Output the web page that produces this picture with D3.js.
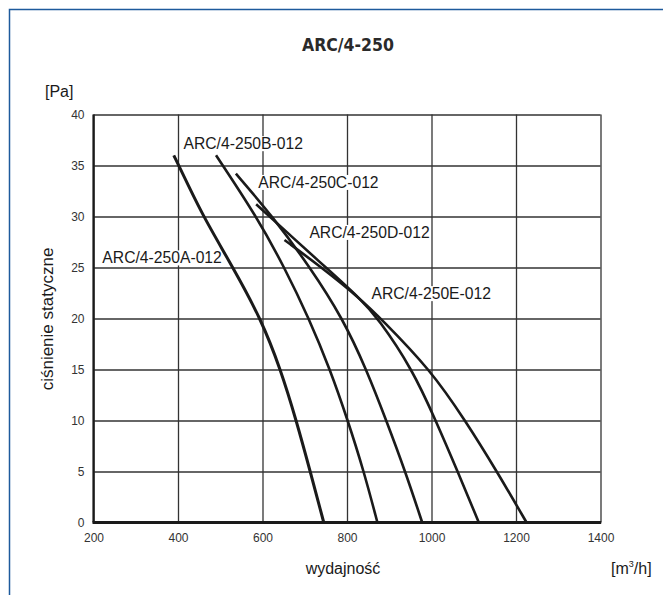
<!DOCTYPE html>
<html><head><meta charset="utf-8">
<script src="https://cdn.jsdelivr.net/npm/d3@7"></script>
<style>html,body{margin:0;padding:0;background:#fff;} svg{display:block;}</style>
</head><body>
<script>
const title = "ARC/4-250";
const seriesNames = ["ARC/4-250A-012","ARC/4-250B-012","ARC/4-250C-012","ARC/4-250D-012","ARC/4-250E-012"];
// [flow m3/h, static pressure Pa]
const curveA = [[390,36],[425,33],[460,30],[530,25],[596,20],[643,15],[680,10],[713,5],[745,0]];
const curveB = [[490,36],[586,30],[652,25],[710,20],[760,15],[802,10],[840,5],[872,0]];
const curveC = [[537,34.2],[624,30],[713,25],[790,20],[846,15],[893,10],[938,5],[978,0]];
const curveD = [[585,31.2],[678,27.7],[750,25],[830,22],[874,20],[955,15],[1010,10],[1062,5],[1112,0]];
const curveE = [[652,27.7],[740,25],[830,22],[880,20],[997,15],[1080,10],[1155,5],[1225,0]];
const xTicks = [200,400,600,800,1000,1200,1400];
const yTicks = [0,5,10,15,20,25,30,35,40];
// label anchor in data units [flow, pressure at baseline]
const labelPos = [[221,25.4],[413,36.6],[590,32.8],[711,27.9],[858,21.9]];

const W=663,H=595;
const svg=d3.select("body").append("svg").attr("width",W).attr("height",H);
const x=d3.scaleLinear().domain([200,1400]).range([93.5,600.5]);
const y=d3.scaleLinear().domain([0,40]).range([522.5,114.5]);
const font="'Liberation Sans', Arial, sans-serif";

// frame
svg.append("rect").attr("x",9.5).attr("y",9.5).attr("width",700).attr("height",700)
  .attr("fill","none").attr("stroke","#1d5a9c").attr("stroke-width",1.5);

// title
svg.append("text").attr("x",348).attr("y",51).attr("text-anchor","middle")
  .attr("font-family","'DejaVu Sans Condensed','DejaVu Sans',sans-serif").attr("font-weight","bold")
  .attr("font-size",17.5).attr("fill","#2a2a2a").text(title);

const plotH = y(0)-y(40), plotW = x(1400)-x(200);
// y grid + labels
const gy=svg.append("g").attr("transform",`translate(${x(200)},0)`)
  .call(d3.axisLeft(y).tickValues(yTicks).tickSize(-plotW).tickPadding(9).tickFormat(d3.format("d")));
gy.select(".domain").remove();
gy.selectAll(".tick line").attr("stroke","#333").attr("stroke-width",1.3);
gy.selectAll(".tick text").attr("font-family",font).attr("font-size",12).attr("fill","#333");
// x grid + labels
const gx=svg.append("g").attr("transform",`translate(0,${y(0)})`)
  .call(d3.axisBottom(x).tickValues(xTicks).tickSize(-plotH).tickPadding(11).tickFormat(d3.format("d")));
gx.select(".domain").remove();
gx.selectAll(".tick line").attr("stroke","#333").attr("stroke-width",1.3);
gx.selectAll(".tick text").attr("font-family",font).attr("font-size",12).attr("fill","#333");

// axis lines
svg.append("line").attr("x1",x(200)).attr("x2",x(200)).attr("y1",y(40)).attr("y2",y(0))
  .attr("stroke","#1a1a1a").attr("stroke-width",2.2);
svg.append("line").attr("x1",x(200)-1).attr("x2",x(1400)+0.7).attr("y1",y(0)).attr("y2",y(0))
  .attr("stroke","#1a1a1a").attr("stroke-width",2.8);

// labels with white background
const lg=svg.append("g");
seriesNames.forEach((n,i)=>{
  const t=lg.append("text").attr("x",x(labelPos[i][0])).attr("y",y(labelPos[i][1]))
    .attr("font-family",font).attr("font-size",15.7).attr("fill","#1a1a1a").text(n);
  const b=t.node().getBBox();
  lg.insert("rect","text").attr("x",b.x-1).attr("y",b.y+1).attr("width",b.width+2).attr("height",b.height-2).attr("fill","#fff");
});

// curves
const line=d3.line().x(d=>x(d[0])).y(d=>y(d[1])).curve(d3.curveBasis);
[curveA,curveB,curveC,curveD,curveE].forEach((c,i)=>{
  svg.append("path").attr("d",line(c)).attr("fill","none").attr("stroke","#1a1a1a")
    .attr("stroke-width",i===0?3:2.6).attr("stroke-linecap","butt");
});

// axis titles
svg.append("text").attr("x",45).attr("y",97).attr("font-family",font).attr("font-size",16).attr("fill","#1a1a1a").text("[Pa]");
svg.append("text").attr("transform","translate(53,319) rotate(-90)").attr("text-anchor","middle")
  .attr("font-family",font).attr("font-size",17).attr("fill","#1a1a1a").text("ciśnienie statyczne");
svg.append("text").attr("x",343).attr("y",574).attr("text-anchor","middle")
  .attr("font-family",font).attr("font-size",16).attr("fill","#1a1a1a").text("wydajność");
const u=svg.append("text").attr("x",611).attr("y",574).attr("font-family",font).attr("font-size",16).attr("fill","#1a1a1a");
u.append("tspan").text("[m");
u.append("tspan").attr("font-size",9).attr("dy",-7).text("3");
u.append("tspan").attr("dy",7).text("/h]");
</script>
</body></html>
